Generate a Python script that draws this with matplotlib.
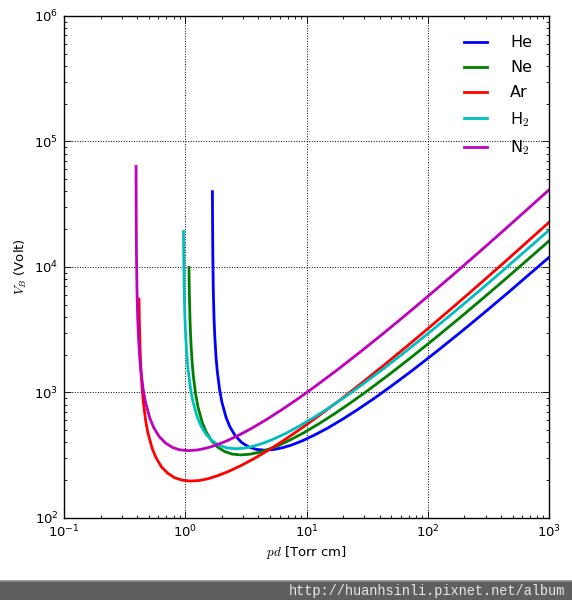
import numpy as np
import matplotlib
matplotlib.use('Agg')
import matplotlib.pyplot as plt

# values (pd in Torr cm, V_B in Volt)
he_pd = [1.675, 1.678, 1.687, 1.703, 1.728, 1.754, 1.795, 1.837, 1.921, 2.004, 2.171, 2.338, 2.589, 2.923,
         3.34, 3.841, 4.509, 5.344, 6.346, 7.515, 9.185, 11.69, 15.03, 20.04, 26.72, 36.74, 50.1, 75.15,
         116.9, 183.7, 283.9, 450.9, 1000]
he_v = [39800, 25690, 12940, 6566, 3836, 2744, 1895, 1471, 1049, 839, 632, 531, 451, 399,
        368, 352, 347, 351, 363, 381, 411, 459, 522, 616, 736, 907, 1125, 1507,
        2101, 2984, 4220, 6149, 11930]

ne_pd = [1.073, 1.081, 1.097, 1.113, 1.1395, 1.166, 1.219, 1.272, 1.378, 1.484, 1.643, 1.855, 2.12, 2.438,
         2.862, 3.392, 4.028, 4.77, 5.83, 7.42, 9.54, 12.72, 16.96, 23.32, 31.8, 47.7, 74.2, 116.6,
         180.2, 286.2, 455.8, 1000]
ne_v = [9910, 6026, 3521, 2518, 1739, 1350, 963, 770, 580, 487, 414, 366, 338, 323,
        318, 322, 333, 350, 377, 421, 479, 565, 675, 833, 1032, 1383, 1928, 2738,
        3873, 5643, 8296, 16110]

ar_pd = [0.4155, 0.4182, 0.4244, 0.4305, 0.4408, 0.451, 0.4715, 0.492, 0.533, 0.574, 0.6355, 0.7175, 0.82,
         0.943, 1.107, 1.312, 1.558, 1.845, 2.255, 2.87, 3.69, 4.92, 6.56, 9.02, 12.3, 18.45, 28.7, 45.1,
         69.7, 110.7, 176.3, 287, 451, 1000]
ar_v = [5540, 3734, 2181, 1560, 1077, 837, 597, 477, 359, 302, 256, 227, 209,
        200, 197, 199, 206, 217, 234, 261, 297, 350, 418, 516, 640, 857, 1195, 1697,
        2400, 3497, 5141, 7750, 11390, 22670]

h2_pd = [0.9666, 0.9696, 0.9792, 0.9936, 1.008, 1.032, 1.056, 1.104, 1.152, 1.248, 1.344, 1.488, 1.68,
         1.92, 2.208, 2.592, 3.072, 3.648, 4.32, 5.28, 6.72, 8.64, 11.52, 15.36, 21.12, 28.8, 43.2,
         67.2, 105.6, 163.2, 259.2, 412.8, 1000]
h2_v = [19200, 13300, 6747, 3942, 2819, 1947, 1512, 1078, 862, 649, 545, 463, 410,
        378, 362, 356, 360, 373, 392, 423, 471, 537, 633, 756, 932, 1156, 1548,
        2159, 3065, 4336, 6318, 9289, 19640]

n2_pd = [0.3928, 0.394, 0.3959, 0.3998, 0.4057, 0.4116, 0.4214, 0.4312, 0.4508, 0.4704, 0.5096, 0.5488,
         0.6076, 0.686, 0.784, 0.9016, 1.058, 1.254, 1.49, 1.764, 2.156, 2.744, 3.528, 4.704, 6.272,
         8.624, 11.76, 17.64, 27.44, 43.12, 66.64, 105.8, 168.6, 274.4, 431.2, 1000]
n2_v = [63200, 25490, 12840, 6515, 3806, 2722, 1880, 1460, 1041, 833, 627, 526,
        447, 396, 365, 349, 344, 348, 360, 378, 408, 455, 518, 611, 730,
        900, 1116, 1495, 2085, 2960, 4187, 6101, 8970, 13520, 19870, 41140]

gases = ['He', 'Ne', 'Ar', 'H$_2$', 'N$_2$']
colors = ['#0000ff', '#007f00', '#ff0000', '#00bfbf', '#bf00bf']

plt.rcParams['mathtext.fontset'] = 'cm'
plt.rcParams['font.family'] = 'DejaVu Sans'
plt.rcParams['axes.unicode_minus'] = False
plt.rcParams['xtick.direction'] = 'in'
plt.rcParams['ytick.direction'] = 'in'
plt.rcParams['xtick.top'] = True
plt.rcParams['ytick.right'] = True

fig = plt.figure(figsize=(5.72, 6.0), dpi=100)
ax = fig.add_axes([0.1119, 0.1367, 0.8479, 0.8367])

curves = [(he_pd, he_v), (ne_pd, ne_v), (ar_pd, ar_v), (h2_pd, h2_v), (n2_pd, n2_v)]
for (pd, v), name, col in zip(curves, gases, colors):
    ax.plot(pd, v, color=col, lw=2, label=name, solid_joinstyle='round')

ax.set_xscale('log')
ax.set_yscale('log')
ax.set_xlim(0.1, 1000)
ax.set_ylim(100, 1e6)
ax.grid(True, which='major', color='k', linestyle=':', linewidth=0.7)
ax.tick_params(which='major', length=5, width=0.6, labelsize=9.5, pad=4)
ax.tick_params(which='minor', length=2.5, width=0.6)
for s in ax.spines.values():
    s.set_linewidth(1.0)

ax.set_xlabel('$pd$ [Torr cm]', fontsize=9.5, labelpad=3)
ax.set_ylabel('$V_B$ (Volt)', fontsize=9.5, labelpad=4)

ax.legend(loc='upper right', frameon=False, fontsize=11.5, handlelength=1.45,
          handletextpad=1.45, labelspacing=0.62, bbox_to_anchor=(0.995, 0.99))

# watermark bar at the bottom
fig.patches.append(plt.Rectangle((0, 0), 1, 19 / 600., transform=fig.transFigure,
                                 facecolor='#5f5f5f', edgecolor='none'))
fig.lines.append(plt.Line2D([0, 1], [19 / 600., 19 / 600.], transform=fig.transFigure,
                            color='#8a8a8a', lw=1.2))
fig.text(565 / 572., 9 / 600., 'http://huanhsinli.pixnet.net/album', ha='right', va='center',
         family='Liberation Mono', fontsize=9.8, color='#e8e8e8')

fig.savefig('out.png', dpi=100, facecolor='white')
